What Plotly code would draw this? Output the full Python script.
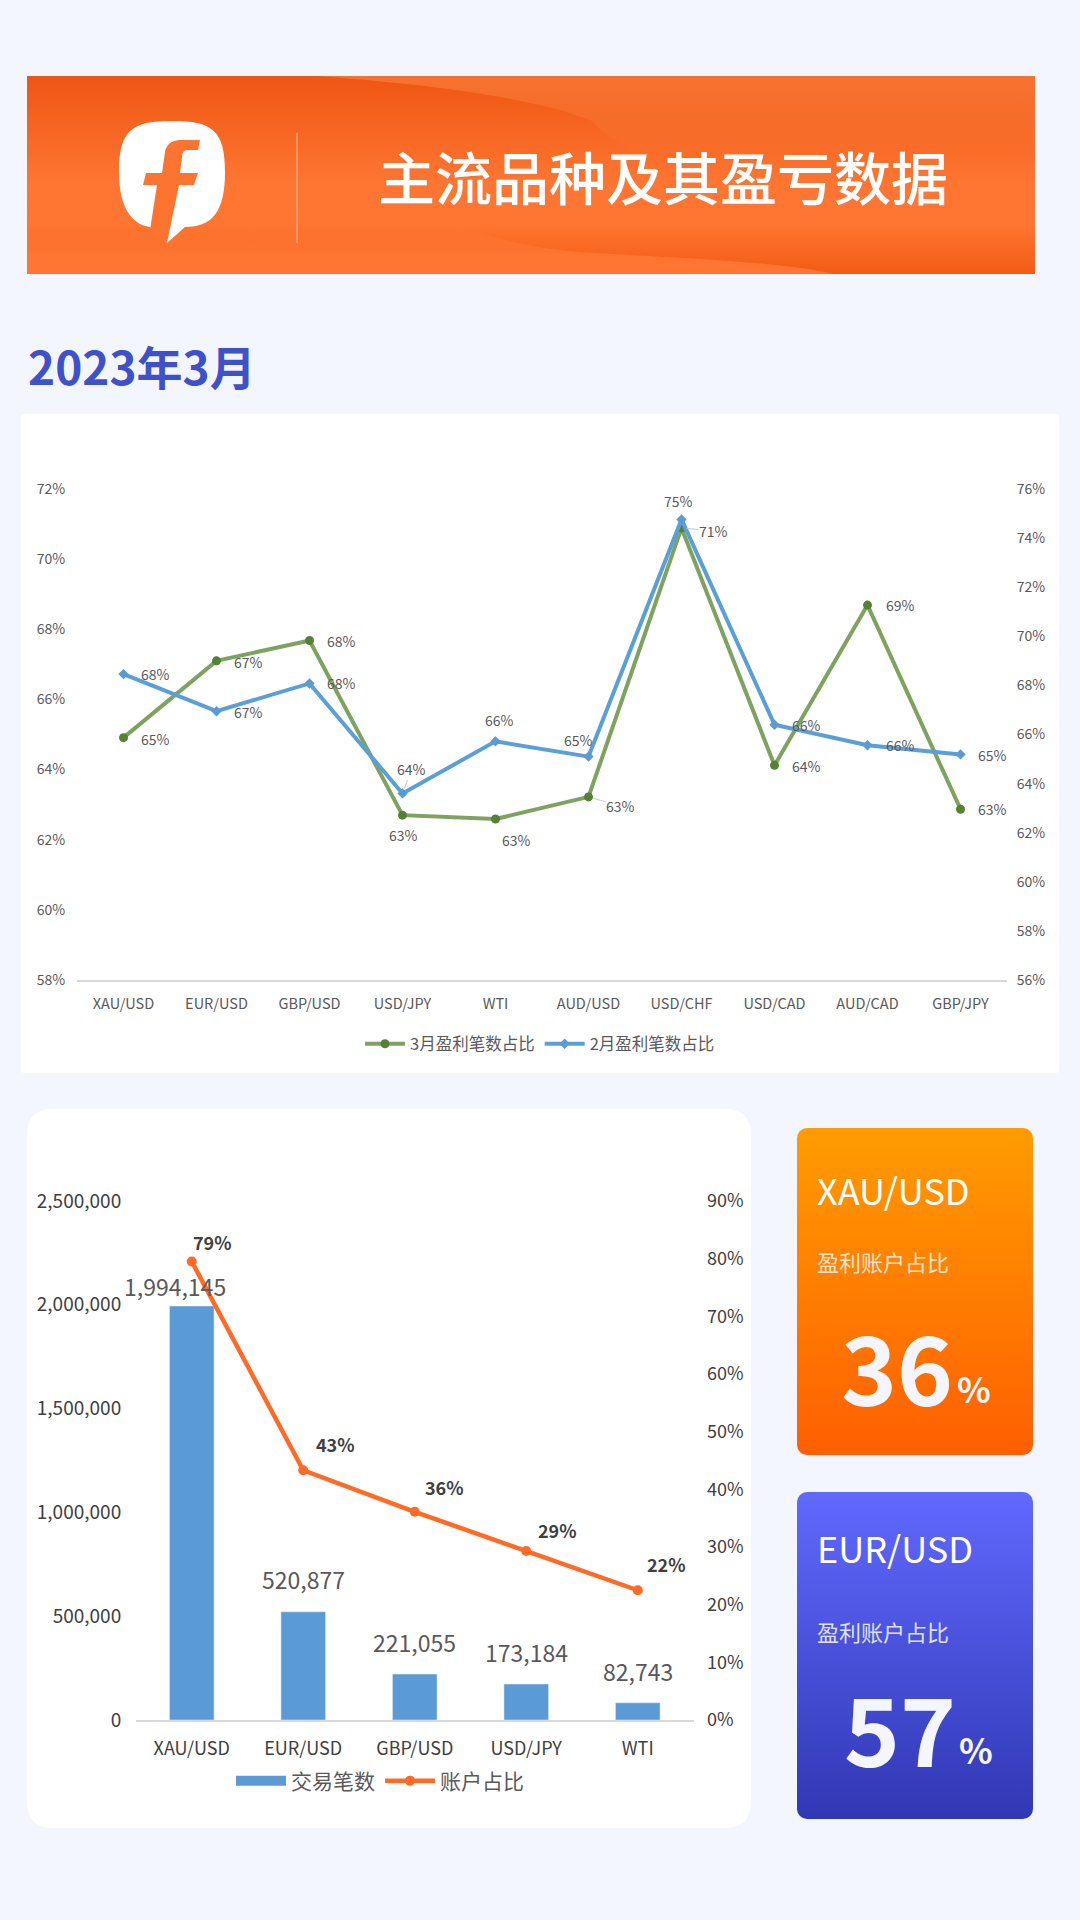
import base64
import plotly.graph_objects as go

# ---------- data ----------
line_categories = ["XAU/USD", "EUR/USD", "GBP/USD", "USD/JPY", "WTI", "AUD/USD", "USD/CHF", "USD/CAD", "AUD/CAD", "GBP/JPY"]
march_win = [64.91, 67.10, 67.68, 62.70, 62.59, 63.22, 70.89, 64.12, 68.69, 62.87]
feb_win = [68.46, 66.95, 68.08, 63.60, 65.72, 65.10, 74.76, 66.40, 65.56, 65.19]
left_ticks = [58, 60, 62, 64, 66, 68, 70, 72]
right_ticks = [56, 58, 60, 62, 64, 66, 68, 70, 72, 74, 76]

bar_categories = ["XAU/USD", "EUR/USD", "GBP/USD", "USD/JPY", "WTI"]
trades = [1994145, 520877, 221055, 173184, 82743]
account_share = [79.5, 43.3, 36.1, 29.3, 22.5]
trade_ticks = [0, 500000, 1000000, 1500000, 2000000, 2500000]
share_ticks = [0, 10, 20, 30, 40, 50, 60, 70, 80, 90]

# ---------- layout helpers (pixels -> paper) ----------
W, H = 1080, 1920
CJK = "Noto Sans CJK SC"
X = lambda px: px / W
Y = lambda px: 1 - px / H


def path(points):
    out = []
    for cmd, *xy in points:
        coords = [f"{X(xy[i]):.5f},{Y(xy[i + 1]):.5f}" for i in range(0, len(xy), 2)]
        out.append(cmd + " " + " ".join(coords))
    return " ".join(out) + " Z"


def rounded(x0, y0, x1, y1, r):
    return path([("M", x0 + r, y0), ("L", x1 - r, y0), ("Q", x1, y0, x1, y0 + r), ("L", x1, y1 - r),
                 ("Q", x1, y1, x1 - r, y1), ("L", x0 + r, y1), ("Q", x0, y1, x0, y1 - r), ("L", x0, y0 + r),
                 ("Q", x0, y0, x0 + r, y0)])


def svg_image(svg, x0, y0, x1, y1):
    uri = "data:image/svg+xml;base64," + base64.b64encode(svg.encode()).decode()
    return dict(source=uri, xref="paper", yref="paper", x=X(x0), y=Y(y0), sizex=X(x1) - X(x0),
                sizey=(y1 - y0) / H, xanchor="left", yanchor="top", sizing="stretch", layer="below")


banner_svg = """<svg xmlns="http://www.w3.org/2000/svg" width="1008" height="198" viewBox="0 0 1008 198">
<defs><linearGradient id="a" x1="0" y1="0" x2="0" y2="1">
<stop offset="0" stop-color="#ee5612"/><stop offset="0.55" stop-color="#fe7632"/>
<stop offset="0.75" stop-color="#ff7531"/><stop offset="1" stop-color="#f15c14"/></linearGradient>
<linearGradient id="b" gradientUnits="userSpaceOnUse" x1="0" y1="0" x2="0" y2="80">
<stop offset="0" stop-color="#ff8a4a" stop-opacity="0.55"/><stop offset="1" stop-color="#ff8a4a" stop-opacity="0"/></linearGradient>
<linearGradient id="c" gradientUnits="userSpaceOnUse" x1="0" y1="140" x2="0" y2="180">
<stop offset="0" stop-color="#ff7531" stop-opacity="0"/><stop offset="1" stop-color="#ff7531" stop-opacity="1"/></linearGradient></defs>
<rect width="1008" height="198" fill="url(#a)"/>
<path d="M290 0 C400 8 510 22 565 45 C580 60 600 80 640 80 L1008 80 L1008 0 Z" fill="url(#b)"/>
<path d="M0 198 L0 140 L400 140 C470 165 510 172 551 176 C650 182 760 186 806 198 Z" fill="url(#c)"/>
</svg>"""


def card_svg(top, bottom, w=236, h=327, r=10):
    return f"""<svg xmlns="http://www.w3.org/2000/svg" width="{w}" height="{h}" viewBox="0 0 {w} {h}">
<defs><linearGradient id="a" x1="0" y1="0" x2="0" y2="1">
<stop offset="0" stop-color="{top}"/><stop offset="1" stop-color="{bottom}"/></linearGradient></defs>
<rect width="{w}" height="{h}" rx="{r}" ry="{r}" fill="url(#a)"/></svg>"""


def page_text(x, y, text, size, color="#ffffff", anchor="left", weight=None):
    font = dict(family=CJK, size=size, color=color)
    if weight:
        font["weight"] = weight
    return dict(xref="paper", yref="paper", x=X(x), y=Y(y), text=text, showarrow=False, xanchor=anchor,
                yanchor="middle", font=font, borderpad=0, align="left")


fig = go.Figure()

# ---------- line chart ----------
fig.add_trace(go.Scatter(x=line_categories, y=march_win, name="3月盈利笔数占比", mode="lines+markers",
                         line=dict(color="#7ea361", width=4), marker=dict(color="#548235", size=9),
                         xaxis="x", yaxis="y", legend="legend"))
fig.add_trace(go.Scatter(x=line_categories, y=feb_win, name="2月盈利笔数占比", mode="lines+markers",
                         line=dict(color="#5b9fd8", width=4), marker=dict(color="#5b9bd5", size=8, symbol="diamond"),
                         xaxis="x", yaxis="y2", legend="legend"))

# ---------- bar + line chart ----------
fig.add_trace(go.Bar(x=bar_categories, y=trades, name="交易笔数", marker=dict(color="#5b9bd5"), width=0.4,
                     xaxis="x2", yaxis="y3", showlegend=False))
# legend key only: gives the bar series the wide swatch of the reference
fig.add_trace(go.Scatter(x=bar_categories, y=[None] * len(bar_categories), name="交易笔数", mode="lines",
                         line=dict(color="#5b9bd5", width=10), xaxis="x2", yaxis="y3", legend="legend2"))
fig.add_trace(go.Scatter(x=bar_categories, y=account_share, name="账户占比", mode="lines+markers",
                         line=dict(color="#ff6a26", width=4.5), marker=dict(color="#ff6a26", size=10),
                         xaxis="x2", yaxis="y4", legend="legend2"))

# ---------- data labels ----------
LABEL = "#595959"
march_offsets = [(32, 1), (32, 1), (32, 0), (1, 20), (21, 21), (32, 9), (32, 3), (32, 1), (33, 0), (32, 0)]
feb_offsets = [(32, 0), (32, 1), (32, 0), (9, -24), (4, -21), (-10, -17), (-3, -18), (32, 0), (33, 0), (32, 1)]
march_leaders = {"AUD/USD", "USD/CHF"}
feb_leaders = {"USD/JPY"}
annotations = []


def point_label(xval, yval, text, xref, yref, dx, dy, size, color, leader=False, weight=None):
    font = dict(family=CJK, size=size, color=color)
    if weight:
        font["weight"] = weight
    base = dict(x=xval, y=yval, xref=xref, yref=yref, text=text, font=font, borderpad=0)
    if leader:
        base.update(showarrow=True, ax=dx, ay=dy, arrowhead=0, arrowwidth=1, arrowcolor="#c8c8c8",
                    standoff=5, startstandoff=0)
    else:
        base.update(showarrow=False, xshift=dx, yshift=-dy)
    return base


for c, v, (dx, dy) in zip(line_categories, march_win, march_offsets):
    annotations.append(point_label(c, v, f"{round(v)}%", "x", "y", dx, dy, 14, LABEL, c in march_leaders))
for c, v, (dx, dy) in zip(line_categories, feb_win, feb_offsets):
    annotations.append(point_label(c, v, f"{round(v)}%", "x", "y2", dx, dy, 14, LABEL, c in feb_leaders))

bar_offsets = [(-17, -20), (0, -33), (0, -32), (0, -32), (0, -32)]
share_offsets = [(21, -20), (32, -26), (30, -25), (31, -21), (29, -26)]
share_text = ["79%", "43%", "36%", "29%", "22%"]
for c, v, (dx, dy) in zip(bar_categories, trades, bar_offsets):
    annotations.append(point_label(c, v, f"{v:,}", "x2", "y3", dx, dy, 23, "#595959"))
for c, v, t, (dx, dy) in zip(bar_categories, account_share, share_text, share_offsets):
    annotations.append(point_label(c, v, t, "x2", "y4", dx, dy, 18, "#404040", weight=700))

# ---------- page texts ----------
annotations += [
    page_text(662.5, 175, "主流品种及其盈亏数据", 57, anchor="center", weight=500),
    page_text(27, 365, "2023年3月", 46, color="#3f51c9", weight=700),
    page_text(816, 1189, "XAU/USD", 36),
    page_text(816, 1261, "盈利账户占比", 22, color="#ffe3cf"),
    page_text(897, 1364, "36", 95, color="#f5f6fd", anchor="center", weight=700),
    page_text(974, 1387, "%", 35, color="#f5f6fd", anchor="center", weight=700),
    page_text(816, 1547, "EUR/USD", 36),
    page_text(816, 1631, "盈利账户占比", 22, color="#dfe2ff"),
    page_text(900, 1725, "57", 95, color="#f5f6fd", anchor="center", weight=700),
    page_text(976, 1748, "%", 35, color="#f5f6fd", anchor="center", weight=700),
]

# ---------- shapes ----------
BANNER_F = "#fd7430"
shapes = [
    dict(type="path", xref="paper", yref="paper", path=rounded(21, 414, 1059, 1073, 4), fillcolor="#ffffff", line_width=0, layer="below"),
    dict(type="path", xref="paper", yref="paper", path=rounded(27, 1109, 751, 1828, 26), fillcolor="#ffffff", line_width=0, layer="below"),
    dict(type="line", xref="paper", yref="paper", x0=X(297), x1=X(297), y0=Y(133), y1=Y(243), line=dict(color="rgba(255,255,255,0.55)", width=1), layer="below"),
    # logo bubble
    dict(type="path", xref="paper", yref="paper", fillcolor="#ffffff", line_width=0, layer="below",
         path=path([("M", 172, 121), ("C", 212, 121, 225, 130, 225, 172), ("C", 225, 212, 212, 227, 185, 227),
                    ("L", 167, 243), ("L", 150, 227), ("C", 130, 224, 119, 205, 119, 172), ("C", 119, 130, 132, 121, 172, 121)])),
    # logo letter
    dict(type="path", xref="paper", yref="paper", fillcolor=BANNER_F, line_width=0, layer="below",
         path=path([("M", 200, 140), ("L", 198, 150), ("L", 187, 150), ("C", 184, 150, 182, 153, 182, 157), ("L", 180, 173),
                    ("L", 198, 173), ("L", 194, 185), ("L", 179, 185), ("L", 167, 243), ("L", 150, 230), ("L", 157, 185),
                    ("L", 143, 185), ("L", 146, 173), ("L", 162, 173), ("L", 165, 152), ("C", 166, 145, 172, 140, 180, 140)])),
]

images = [
    svg_image(banner_svg, 27, 76, 1035, 274),
    svg_image(card_svg("#ff9c00", "#ff5f00"), 797, 1128, 1033, 1455),
    svg_image(card_svg("#6169ff", "#3038b4"), 797, 1492, 1033, 1819),
]

AXIS_LINE = "#d9d9d9"
TICK = "#595959"
TICK2 = "#404040"


def value_axis(domain, rng, ticks, labels, size, color, side, gap, **kw):
    return dict(domain=domain, range=rng, tickmode="array", tickvals=ticks, ticktext=labels, side=side, showgrid=False,
                zeroline=False, showline=False, ticks="outside", ticklen=gap, tickcolor="rgba(0,0,0,0)",
                tickfont=dict(family=CJK, size=size, color=color), **kw)


pct = lambda seq: [f"{t}%" for t in seq]

fig.update_layout(
    width=W, height=H, margin=dict(l=0, r=0, t=0, b=0, autoexpand=False), autosize=False,
    paper_bgcolor="#f3f5ff", plot_bgcolor="rgba(0,0,0,0)", barmode="overlay", hovermode=False,
    xaxis=dict(domain=[X(77), X(1007)], range=[-0.5, 9.5], anchor="y", showgrid=False, zeroline=False, showline=True, linecolor=AXIS_LINE,
               linewidth=1.5, ticks="outside", ticklen=10, tickcolor="rgba(0,0,0,0)", tickangle=0,
               tickfont=dict(family=CJK, size=14.5, color=TICK)),
    yaxis=value_axis([Y(980), Y(489)], [58, 72], left_ticks, pct(left_ticks), 14, TICK, "left", 8, anchor="x"),
    yaxis2=value_axis([Y(980), Y(489)], [56, 76], right_ticks, pct(right_ticks), 14, TICK, "right", 6, anchor="x", overlaying="y"),
    xaxis2=dict(domain=[X(136), X(693.5)], range=[-0.5, 4.5], anchor="y3", showgrid=False, zeroline=False, showline=True, linecolor=AXIS_LINE,
                linewidth=1.5, ticks="outside", ticklen=12, tickcolor="rgba(0,0,0,0)", tickangle=0,
                tickfont=dict(family=CJK, size=18, color=TICK2)),
    yaxis3=value_axis([Y(1720), Y(1201)], [0, 2500000], trade_ticks, [f"{t:,}" for t in trade_ticks], 19, TICK2, "left", 10, anchor="x2"),
    yaxis4=value_axis([Y(1720), Y(1201)], [0, 90], share_ticks, pct(share_ticks), 18, TICK2, "right", 9, anchor="x2", overlaying="y3"),
    legend=dict(orientation="h", x=X(360), y=Y(1044), xanchor="left", yanchor="middle", itemwidth=40, bgcolor="rgba(0,0,0,0)",
                font=dict(family=CJK, size=16.5, color=TICK), tracegroupgap=0, traceorder="normal", itemclick=False, itemdoubleclick=False),
    legend2=dict(orientation="h", x=X(231), y=Y(1781), xanchor="left", yanchor="middle", itemwidth=50, bgcolor="rgba(0,0,0,0)",
                 font=dict(family=CJK, size=21, color=TICK), tracegroupgap=0, traceorder="normal", itemclick=False, itemdoubleclick=False),
    annotations=annotations, shapes=shapes, images=images,
)

fig.write_html("out.html", config={"displayModeBar": False, "responsive": False},
               post_script="document.body.style.margin='0';document.body.style.background='#f3f5ff';")
